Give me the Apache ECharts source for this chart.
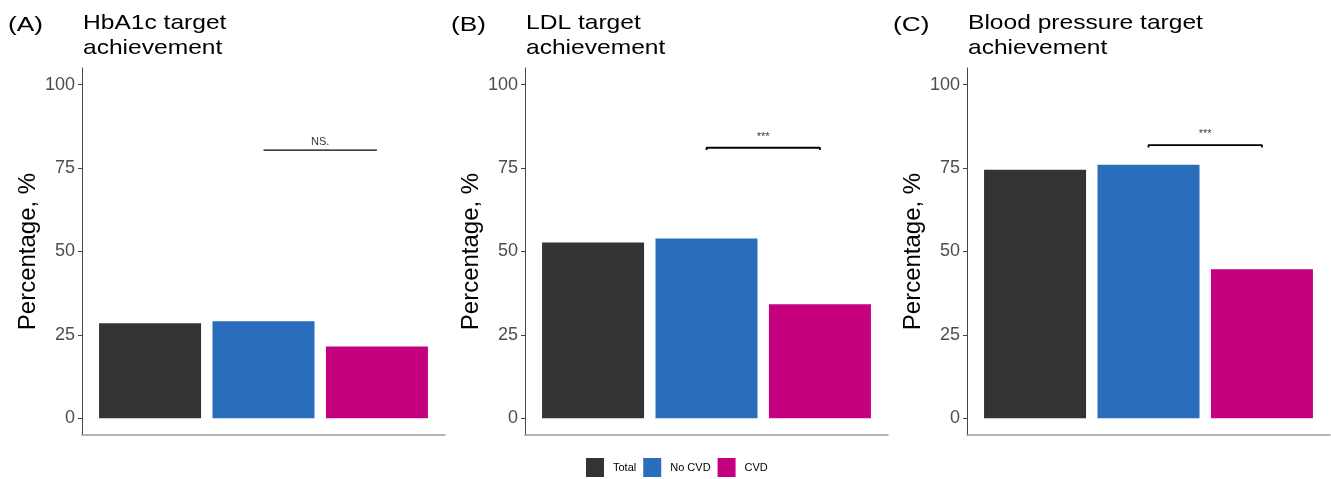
<!DOCTYPE html>
<html>
<head>
<meta charset="utf-8">
<script src="https://cdn.jsdelivr.net/npm/echarts@6/dist/echarts.min.js"></script>
<style>html,body{margin:0;padding:0;background:#fff}#c{width:1331px;height:479px}</style>
</head>
<body>
<div id="c"></div>
<script>
// ---- data ----
const categories = ['Total', 'No CVD', 'CVD'];
const panelLabels = ['(A)', '(B)', '(C)'];
const panelTitles = [['HbA1c target', 'achievement'], ['LDL target', 'achievement'], ['Blood pressure target', 'achievement']];
const hba1cValues = [28.5, 29.1, 21.5];
const ldlValues = [52.7, 53.9, 34.2];
const bpValues = [74.5, 76.0, 44.7];
const sigLabels = ['NS.', '***', '***'];
const sigHeights = [80.4, 81.1, 81.9];
const sigTicks = [false, true, true];
const yTickValues = [0, 25, 50, 75, 100];
const yAxisTitle = 'Percentage, %';

// ---- layout / style ----
const panelValues = [hba1cValues, ldlValues, bpValues];
const colors = ['#333333', '#2a6ebb', '#c5007f'];
const gridLefts = [82, 525, 967];
const gridWidth = 363;
const gridTop = 68, gridBottom = 44;
const xMin = 0.4, xMax = 3.6;
const barWidth = Math.round(0.9 * gridWidth / (xMax - xMin));
const font = 'Liberation Sans, Arial, sans-serif';

const chart = echarts.init(document.getElementById('c'), null, {renderer: 'canvas'});

const grids = [], xAxes = [], yAxes = [], series = [], graphics = [];
for (let p = 0; p < 3; p++) {
  grids.push({left: gridLefts[p], width: gridWidth, top: gridTop, bottom: gridBottom, containLabel: false});
  xAxes.push({
    type: 'value', gridIndex: p, min: xMin, max: xMax,
    axisLine: {show: true, onZero: false, lineStyle: {color: '#9a9a9a', width: 1.5}},
    axisTick: {show: false}, axisLabel: {show: false}, splitLine: {show: false}
  });
  yAxes.push({
    type: 'value', gridIndex: p, min: -5, max: 105,
    name: yAxisTitle, nameLocation: 'middle', nameGap: 42,
    nameTextStyle: {fontFamily: font, fontSize: 24, color: '#000'},
    axisLine: {show: true, onZero: false, lineStyle: {color: '#444', width: 1}},
    axisTick: {show: true, length: 4, customValues: yTickValues, lineStyle: {color: '#444'}},
    axisLabel: {show: true, margin: 7, customValues: yTickValues, fontFamily: font, fontSize: 18, color: '#4d4d4d'},
    splitLine: {show: false}
  });
  categories.forEach((name, i) => {
    series.push({
      type: 'bar', name: name, xAxisIndex: p, yAxisIndex: p,
      barWidth: barWidth, barGap: '-100%',
      itemStyle: {color: colors[i]},
      data: [[i + 1, panelValues[p][i]]],
      silent: true
    });
  });
  const h = sigHeights[p];
  const tick = 0.7;
  const bracket = sigTicks[p]
    ? [[2, h - tick], [2, h], [3, h], [3, h - tick]]
    : [[2, h], [3, h]];
  series.push({
    type: 'line', xAxisIndex: p, yAxisIndex: p, data: bracket,
    symbol: 'none', silent: true, lineStyle: {color: '#000', width: sigTicks[p] ? 1.8 : 1.2}
  });
  series.push({
    type: 'scatter', xAxisIndex: p, yAxisIndex: p, symbolSize: 0, silent: true,
    data: [[2.5, h + (sigTicks[p] ? 3.2 : 2.3)]],
    label: {show: true, position: 'inside', formatter: sigLabels[p], fontFamily: font,
      fontSize: 11, color: '#000'}
  });
  graphics.push({
    type: 'text', x: gridLefts[p] - 74, y: 25, scaleX: 1.25, silent: true,
    style: {text: panelLabels[p], font: '21px ' + font, fill: '#000', verticalAlign: 'middle', align: 'left'}
  });
  panelTitles[p].forEach((line, k) => {
    graphics.push({
      type: 'text', x: gridLefts[p] + 1, y: 23 + k * 25.5, scaleX: 1.17, silent: true,
      style: {text: line, font: '21px ' + font, fill: '#000', verticalAlign: 'middle', align: 'left'}
    });
  });
}

chart.setOption({
  animation: false,
  graphic: graphics,
  grid: grids,
  xAxis: xAxes,
  yAxis: yAxes,
  legend: {
    data: categories, top: 458, left: 586, padding: 0, itemWidth: 18, itemHeight: 19, itemGap: 7,
    icon: 'rect', textStyle: {fontFamily: font, fontSize: 11, color: '#000', padding: [0, 0, 0, 4]}
  },
  series: series
});
</script>
</body>
</html>
